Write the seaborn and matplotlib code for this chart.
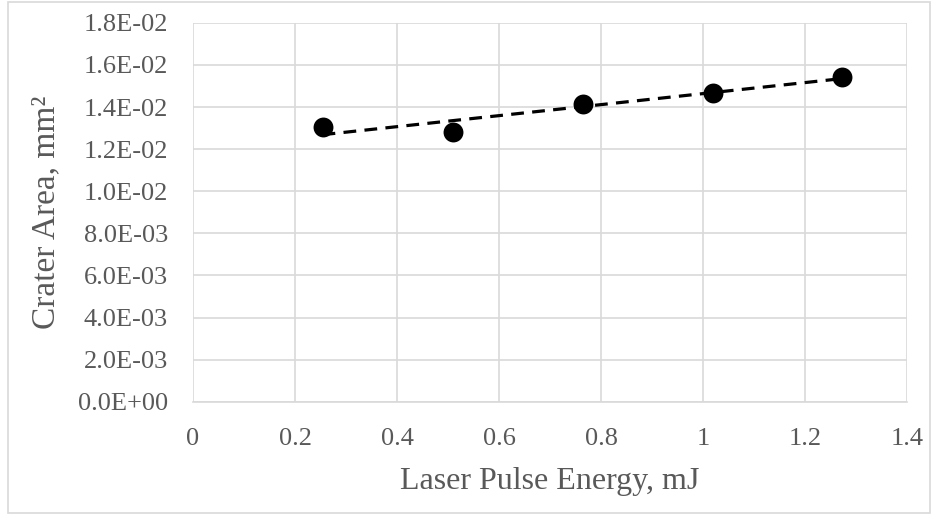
import numpy as np
import pandas as pd
import matplotlib
matplotlib.use("Agg")
import matplotlib.pyplot as plt
from matplotlib.ticker import FuncFormatter, MultipleLocator
from matplotlib.patches import Rectangle
import seaborn as sns

# Data
energy_mJ = [0.254, 0.509, 0.764, 1.019, 1.273]
crater_area_mm2 = [0.01304, 0.01281, 0.01414, 0.01468, 0.01544]
x_ticks = [0, 0.2, 0.4, 0.6, 0.8, 1.0, 1.2, 1.4]
x_tick_labels = ["0", "0.2", "0.4", "0.6", "0.8", "1", "1.2", "1.4"]

df = pd.DataFrame({"energy": energy_mJ, "area": crater_area_mm2})
slope, intercept = np.polyfit(df["energy"], df["area"], 1)
trend = pd.DataFrame({"energy": [min(energy_mJ), max(energy_mJ)]})
trend["area"] = slope * trend["energy"] + intercept

sns.set_theme(style="white")
plt.rcParams["font.family"] = ["Liberation Serif", "DejaVu Serif"]

text_color = "#595959"
grid_color = "#d9d9d9"

fig = plt.figure(figsize=(9.35, 5.18), dpi=100)
ax = fig.add_axes([193 / 935, 1 - 401.7 / 518, (907 - 193) / 935, (401.7 - 22.9) / 518])

sns.lineplot(data=trend, x="energy", y="area", ax=ax, color="black",
             linewidth=2.3, linestyle=(0, (4.0, 2.6)), zorder=3)
sns.scatterplot(data=df, x="energy", y="area", ax=ax, color="black",
                s=205, edgecolor="black", linewidth=0, zorder=4)

ax.set_xlim(0, 1.4)
ax.set_ylim(0, 0.018)
ax.set_xticks(x_ticks)
ax.set_xticklabels(x_tick_labels)
ax.yaxis.set_major_locator(MultipleLocator(0.002))
ax.yaxis.set_major_formatter(FuncFormatter(lambda v, p: f"{v:.1E}"))

ax.grid(True, color=grid_color, linewidth=1.2)
ax.set_axisbelow(True)
for s in ["top", "right", "left"]:
    ax.spines[s].set_visible(False)
ax.spines["bottom"].set_color(grid_color)
ax.spines["bottom"].set_linewidth(1.2)

ax.tick_params(axis="both", length=0, labelsize=19, colors=text_color)
ax.tick_params(axis="y", pad=18)
ax.tick_params(axis="x", pad=19)

ax.set_xlabel("Laser Pulse Energy, mJ", fontsize=23, color=text_color, labelpad=12)
ax.set_ylabel("Crater Area, mm²", fontsize=24, color=text_color, labelpad=12)

fig.patches.append(Rectangle((8 / 935, 5 / 518), 922 / 935, 511 / 518,
                             transform=fig.transFigure, fill=False,
                             edgecolor=grid_color, linewidth=1.2))

fig.savefig("out.png", dpi=100)
